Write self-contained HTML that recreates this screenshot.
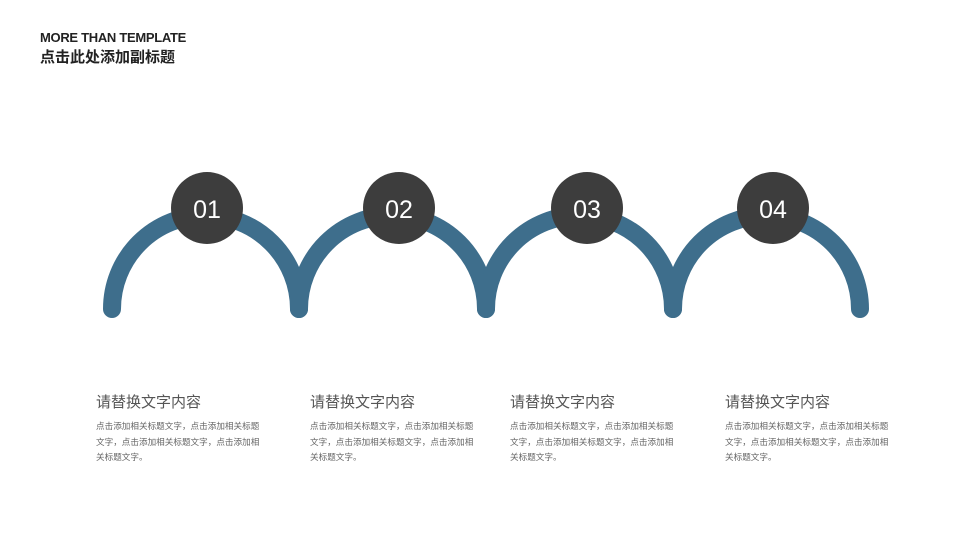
<!DOCTYPE html>
<html><head><meta charset="utf-8"><style>
body{margin:0;width:960px;height:540px;background:#fff;position:relative;overflow:hidden;font-family:"Liberation Sans","Noto Sans CJK SC",sans-serif}
.t1{position:absolute;left:40px;top:30px;font-size:13px;font-weight:bold;color:#222;letter-spacing:-0.3px}
.t2{position:absolute;left:40px;top:46px;font-size:15px;font-weight:bold;color:#222}
.h{position:absolute;top:391px;font-size:15px;color:#555;white-space:nowrap}
.p{position:absolute;top:419px;width:166px;font-size:8.6px;line-height:15.5px;color:#666}
</style></head><body>
<div class="t1">MORE THAN TEMPLATE</div>
<div class="t2">点击此处添加副标题</div>
<svg width="960" height="540" style="position:absolute;left:0;top:0">
<g fill="none" stroke="#3e6e8c" stroke-width="18" stroke-linecap="round">
<path d="M112 309 A93.5 93.5 0 0 1 299 309"/>
<path d="M299 309 A93.5 93.5 0 0 1 486 309"/>
<path d="M486 309 A93.5 93.5 0 0 1 673 309"/>
<path d="M673 309 A93.5 93.5 0 0 1 860 309"/>
</g>
<g fill="#3d3d3d">
<circle cx="207" cy="208" r="36"/><circle cx="399" cy="208" r="36"/>
<circle cx="587" cy="208" r="36"/><circle cx="773" cy="208" r="36"/>
</g>
<g fill="#fff" font-family="Liberation Sans" font-size="25" text-anchor="middle">
<text x="207" y="218">01</text><text x="399" y="218">02</text>
<text x="587" y="218">03</text><text x="773" y="218">04</text>
</g>
</svg>
<div class="h" style="left:96px">请替换文字内容</div>
<div class="p" style="left:96px">点击添加相关标题文字，点击添加相关标题文字，点击添加相关标题文字，点击添加相关标题文字。</div>
<div class="h" style="left:310px">请替换文字内容</div>
<div class="p" style="left:310px">点击添加相关标题文字，点击添加相关标题文字，点击添加相关标题文字，点击添加相关标题文字。</div>
<div class="h" style="left:510px">请替换文字内容</div>
<div class="p" style="left:510px">点击添加相关标题文字，点击添加相关标题文字，点击添加相关标题文字，点击添加相关标题文字。</div>
<div class="h" style="left:725px">请替换文字内容</div>
<div class="p" style="left:725px">点击添加相关标题文字，点击添加相关标题文字，点击添加相关标题文字，点击添加相关标题文字。</div>
</body></html>
